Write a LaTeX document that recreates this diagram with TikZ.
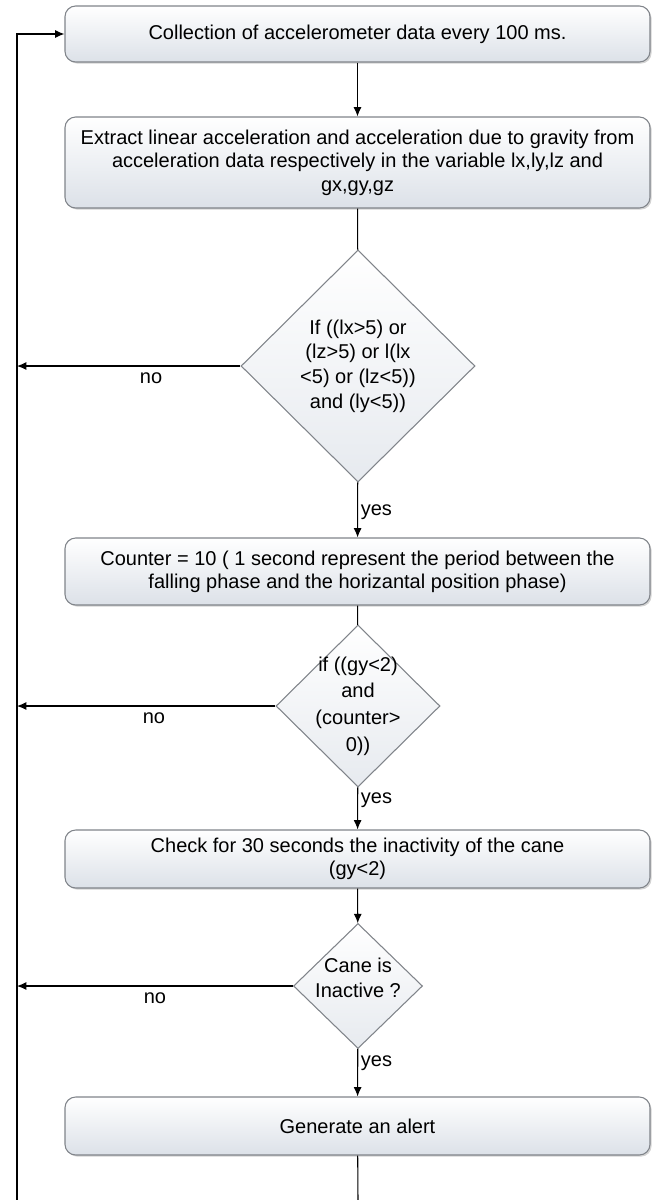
\documentclass[tikz,border=0pt]{standalone}
\usepackage{fontspec}
\setmainfont{Liberation Sans}
\usetikzlibrary{shapes.geometric, shadows, arrows.meta}
\definecolor{boxline}{RGB}{128,132,138}
\definecolor{boxfill}{RGB}{220,225,232}
\tikzset{>={Latex[length=7pt, width=6pt]}}
\tikzset{
  stepbox/.style={draw=boxline, line width=0.8pt, rounded corners=8pt, top color=white, bottom color=boxfill,
    drop shadow={shadow xshift=1.2pt, shadow yshift=-1.2pt, opacity=0.35}, minimum width=438.75pt,
    align=center, inner sep=0pt, font=\fontsize{15}{17.5}\selectfont},
  decision/.style={diamond, draw=boxline, line width=0.8pt, top color=white, bottom color=boxfill!70,
    inner sep=0pt, aspect=1},
  cond/.style={align=center, font=\fontsize{15}{18.5}\selectfont},
  flow/.style={->, line width=0.8pt},
  answer/.style={font=\fontsize{15}{17.5}\selectfont, inner sep=2pt}
}

\begin{document}
\begin{tikzpicture}[x=0.75pt, y=-0.75pt]
    \useasboundingbox (0,0) rectangle (659,1200);
    \node[stepbox, minimum height=42pt] (collect) at (357.5,34) {Collection of accelerometer data every 100 ms.};
    \node[stepbox, minimum height=68.25pt] (extract) at (357.5,162.5) {Extract linear acceleration and acceleration due to gravity from\\acceleration data respectively in the variable lx,ly,lz and\\gx,gy,gz};
    \node[decision, minimum width=175.5pt, minimum height=174pt] (fall) at (358,366) {};
    \node[cond] at (fall) {If ((lx>5) or\\(lz>5) or l(lx\\<5) or (lz<5))\\and (ly<5))};
    \node[stepbox, minimum height=50.25pt] (counter) at (357.5,571.5) {Counter = 10 ( 1 second represent the period between the\\falling phase and the horizantal position phase)};
    \node[decision, minimum width=123pt, minimum height=121.5pt] (horiz) at (358,706) {};
    \node[cond, font=\fontsize{15}{20}\selectfont] at (horiz) {if ((gy<2)\\and\\(counter>\\0))};
    \node[stepbox, minimum height=43.5pt] (check) at (357.5,859) {Check for 30 seconds the inactivity of the cane\\(gy<2)};
    \node[decision, minimum width=96.75pt, minimum height=93.75pt] (idle) at (358,986) {};
    \node[cond] at ([yshift=6pt]idle.center) {Cane is\\Inactive ?};
    \node[stepbox, minimum height=43.5pt] (alert) at (357.5,1126) {Generate an alert};
    \coordinate (loop) at (17,1200);
    \coordinate (tail) at (358,1200);
    \draw[flow] (collect) -- (extract);
    \draw[line width=0.8pt] (extract) -- (fall);
    \draw[flow] (fall) -- node[answer, right, pos=0.55] {yes} (counter);
    \draw[line width=0.8pt] (counter) -- (horiz);
    \draw[flow] (horiz) -- node[answer, right, pos=0.3] {yes} (check);
    \draw[flow] (check) -- (idle);
    \draw[flow] (idle) -- node[answer, right, pos=0.3] {yes} (alert);
    \draw[line width=0.8pt] (alert) -- (tail);
    \draw[flow] (fall.west) -- node[answer, below=3pt, pos=0.4] {no} (fall.west -| loop);
    \draw[flow] (horiz.west) -- node[answer, below=3pt, pos=0.47] {no} (horiz.west -| loop);
    \draw[flow] (idle.west) -- node[answer, below=3pt, pos=0.5] {no} (idle.west -| loop);
    \draw[flow] (loop) |- (collect.west);
\end{tikzpicture}
\end{document}
